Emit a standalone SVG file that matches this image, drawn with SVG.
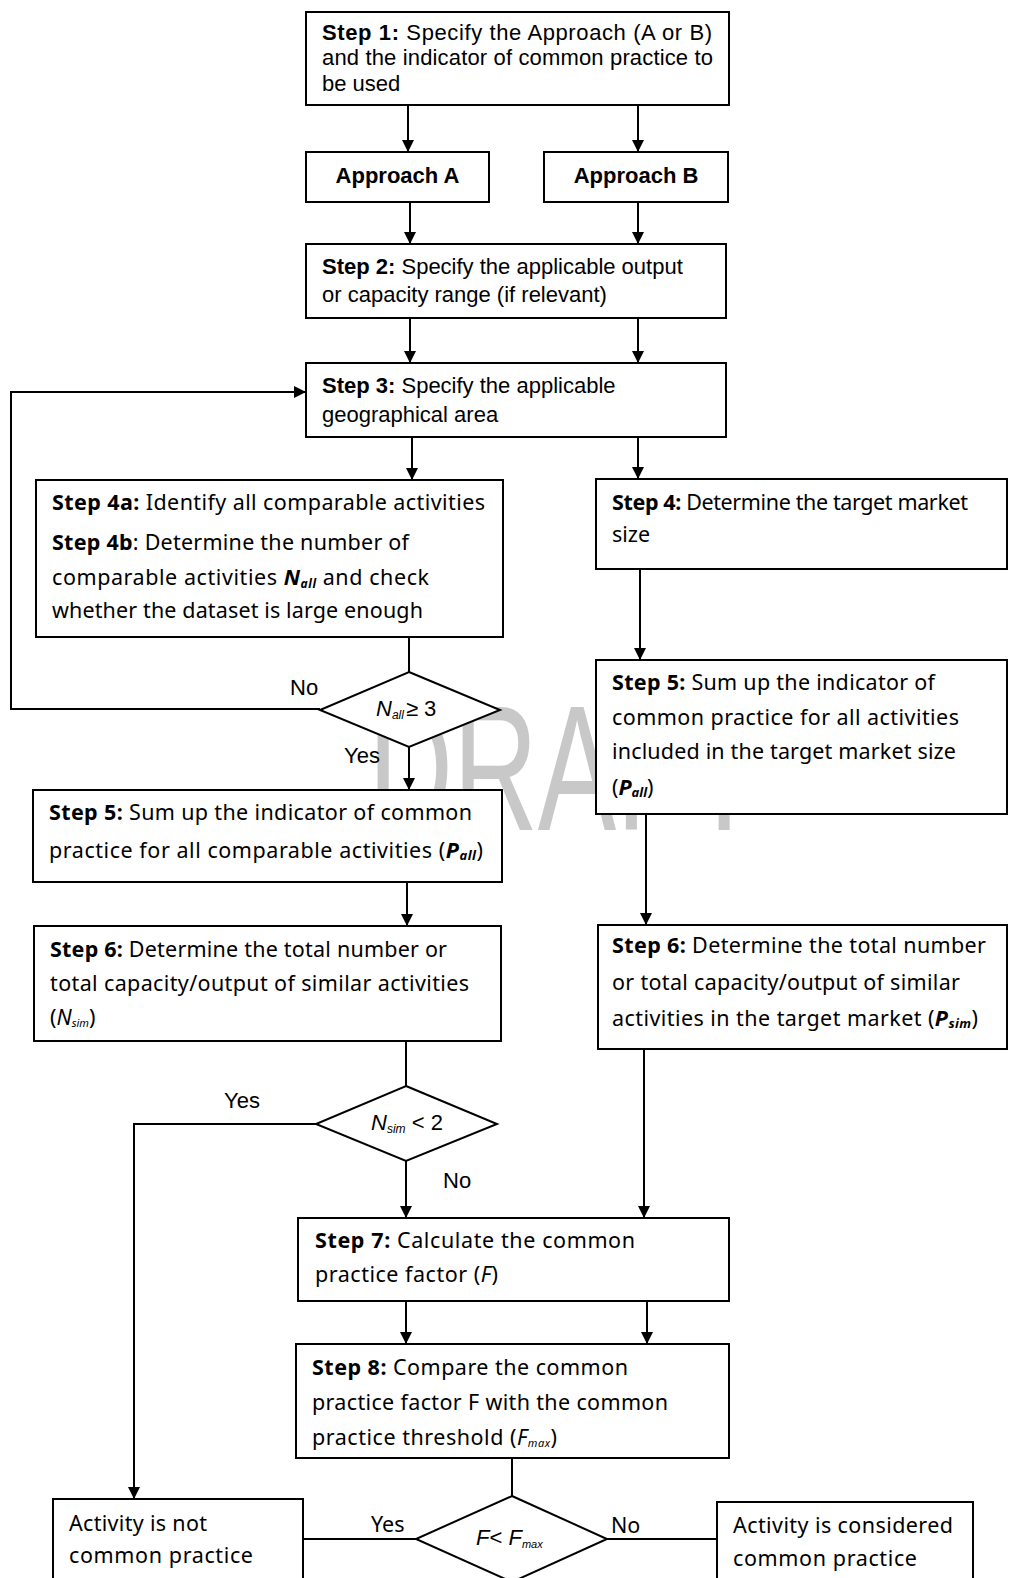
<svg xmlns="http://www.w3.org/2000/svg" width="1009" height="1578" viewBox="0 0 1009 1578">
<defs>
<marker id="arr" markerUnits="userSpaceOnUse" viewBox="0 0 12 12" markerWidth="12" markerHeight="12" refX="12" refY="6" orient="auto">
<path d="M0,0 L12,6 L0,12 z" fill="#000"/>
</marker>
<style>
.box{fill:#fff;stroke:#000;stroke-width:2}
.c{fill:none;stroke:#000;stroke-width:2}
.a{fill:none;stroke:#000;stroke-width:2;marker-end:url(#arr)}
.ar{font-family:"Liberation Sans",Arial,sans-serif;font-size:22px;fill:#000}
.ap{font-family:"Noto Sans","Open Sans",sans-serif;font-size:21.5px;fill:#000}
.b{font-weight:bold}
.i{font-style:italic}
.wm{font-family:"Liberation Sans",Arial,sans-serif;font-size:178px;fill:#c8c8c8}
</style>
</defs>
<rect width="1009" height="1578" fill="#fff"/>
<text class="wm" x="368" y="830" textLength="392" lengthAdjust="spacingAndGlyphs">DRAFT</text>

<g id="connectors">
<line class="a" x1="408" y1="105" x2="408" y2="152"/>
<line class="a" x1="638" y1="105" x2="638" y2="152"/>
<line class="a" x1="410" y1="202" x2="410" y2="244"/>
<line class="a" x1="638" y1="202" x2="638" y2="244"/>
<line class="a" x1="410" y1="318" x2="410" y2="363"/>
<line class="a" x1="638" y1="318" x2="638" y2="363"/>
<line class="a" x1="412" y1="437" x2="412" y2="480"/>
<line class="a" x1="638" y1="437" x2="638" y2="479"/>
<line class="c" x1="409" y1="637" x2="409" y2="672"/>
<polyline class="a" points="320,709 11,709 11,392 306,392"/>
<line class="a" x1="409" y1="747" x2="409" y2="790"/>
<line class="a" x1="640" y1="569" x2="640" y2="660"/>
<line class="a" x1="407" y1="882" x2="407" y2="926"/>
<line class="a" x1="646" y1="814" x2="646" y2="925"/>
<line class="c" x1="406" y1="1041" x2="406" y2="1086"/>
<polyline class="a" points="316,1124 134,1124 134,1499"/>
<line class="a" x1="406" y1="1161" x2="406" y2="1218"/>
<line class="a" x1="644" y1="1049" x2="644" y2="1218"/>
<line class="a" x1="406" y1="1301" x2="406" y2="1344"/>
<line class="a" x1="647" y1="1301" x2="647" y2="1344"/>
<line class="c" x1="512" y1="1458" x2="512" y2="1496"/>
<line class="c" x1="416" y1="1539" x2="303" y2="1539"/>
<line class="c" x1="607" y1="1539" x2="717" y2="1539"/>
<text class="ar" x="290" y="695">No</text>
<text class="ar" x="344" y="763">Yes</text>
<text class="ar" x="224" y="1108">Yes</text>
<text class="ar" x="443" y="1188">No</text>
<text class="ap" x="371" y="1532">Yes</text>
<text class="ap" x="611" y="1533">No</text>
</g>

<g id="step1">
<rect class="box" x="306" y="12" width="423" height="93"/>
<text class="ar" x="322" y="40" textLength="390" lengthAdjust="spacing"><tspan class="b">Step 1:</tspan> Specify the Approach (A or B)</text>
<text class="ar" x="322" y="65" textLength="391" lengthAdjust="spacing">and the indicator of common practice to</text>
<text class="ar" x="322" y="91">be used</text>
</g>

<g id="approachA">
<rect class="box" x="306" y="152" width="183" height="50"/>
<text class="ar b" x="397.5" y="183" text-anchor="middle">Approach A</text>
</g>
<g id="approachB">
<rect class="box" x="544" y="152" width="184" height="50"/>
<text class="ar b" x="636" y="183" text-anchor="middle">Approach B</text>
</g>

<g id="step2">
<rect class="box" x="306" y="244" width="420" height="74"/>
<text class="ar" x="322" y="274"><tspan class="b">Step 2:</tspan> Specify the applicable output</text>
<text class="ar" x="322" y="302">or capacity range (if relevant)</text>
</g>

<g id="step3">
<rect class="box" x="306" y="363" width="420" height="74"/>
<text class="ar" x="322" y="393"><tspan class="b">Step 3:</tspan> Specify the applicable</text>
<text class="ar" x="322" y="422">geographical area</text>
</g>

<g id="step4a">
<rect class="box" x="36" y="480" width="467" height="157"/>
<text class="ap" x="52" y="510" textLength="433"><tspan class="b">Step 4a:</tspan> Identify all comparable activities</text>
<text class="ap" x="52" y="550" textLength="357"><tspan class="b">Step 4b</tspan>: Determine the number of</text>
<text class="ap" x="52" y="585" textLength="377">comparable activities <tspan class="b i">N</tspan><tspan class="b i" font-size="12" dy="3">all</tspan><tspan dy="-3"> and check</tspan></text>
<text class="ap" x="52" y="618" textLength="371">whether the dataset is large enough</text>
</g>

<g id="decision1">
<polygon class="box" points="409,672 500,710 409,747 320,710"/>
<text class="ar" x="376" y="716"><tspan class="i">N</tspan><tspan class="i" font-size="12" dy="3">all</tspan><tspan dy="-3" dx="2">≥ 3</tspan></text>
</g>

<g id="step4">
<rect class="box" x="596" y="479" width="411" height="90"/>
<text class="ap" x="612" y="510" textLength="356"><tspan class="b">Step 4:</tspan> Determine the target market</text>
<text class="ap" x="612" y="542">size</text>
</g>

<g id="step5b">
<rect class="box" x="596" y="660" width="411" height="154"/>
<text class="ap" x="612" y="690" textLength="323"><tspan class="b">Step 5:</tspan> Sum up the indicator of</text>
<text class="ap" x="612" y="725" textLength="347">common practice for all activities</text>
<text class="ap" x="612" y="759" textLength="344">included in the target market size</text>
<text class="ap" x="612" y="795">(<tspan class="b i">P</tspan><tspan class="b i" font-size="13" dy="2">all</tspan><tspan dy="-2">)</tspan></text>
</g>

<g id="step5a">
<rect class="box" x="33" y="790" width="469" height="92"/>
<text class="ap" x="49" y="820" textLength="423"><tspan class="b">Step 5:</tspan> Sum up the indicator of common</text>
<text class="ap" x="49" y="858" textLength="434">practice for all comparable activities (<tspan class="b i">P</tspan><tspan class="b i" font-size="13" dy="2">all</tspan><tspan dy="-2">)</tspan></text>
</g>

<g id="step6a">
<rect class="box" x="34" y="926" width="467" height="115"/>
<text class="ap" x="50" y="957" textLength="397"><tspan class="b">Step 6:</tspan> Determine the total number or</text>
<text class="ap" x="50" y="991" textLength="419">total capacity/output of similar activities</text>
<text class="ap" x="50" y="1025">(<tspan class="i">N</tspan><tspan class="i" font-size="11" dy="2">sim</tspan><tspan dy="-2">)</tspan></text>
</g>

<g id="step6b">
<rect class="box" x="598" y="925" width="409" height="124"/>
<text class="ap" x="612" y="953" textLength="374"><tspan class="b">Step 6:</tspan> Determine the total number</text>
<text class="ap" x="612" y="990" textLength="348">or total capacity/output of similar</text>
<text class="ap" x="612" y="1026" textLength="366">activities in the target market (<tspan class="b i">P</tspan><tspan class="b i" font-size="13" dy="2">sim</tspan><tspan dy="-2">)</tspan></text>
</g>

<g id="decision2">
<polygon class="box" points="406,1086 497,1124 406,1161 316,1124"/>
<text class="ar" x="371" y="1130"><tspan class="i">N</tspan><tspan class="i" font-size="12" dy="3">sim</tspan><tspan dy="-3"> &lt; 2</tspan></text>
</g>

<g id="step7">
<rect class="box" x="298" y="1218" width="431" height="83"/>
<text class="ap" x="315" y="1248" textLength="320"><tspan class="b">Step 7:</tspan> Calculate the common</text>
<text class="ap" x="315" y="1282" textLength="183">practice factor (<tspan class="i">F</tspan>)</text>
</g>

<g id="step8">
<rect class="box" x="296" y="1344" width="433" height="114"/>
<text class="ap" x="312" y="1375" textLength="316"><tspan class="b">Step 8:</tspan> Compare the common</text>
<text class="ap" x="312" y="1410" textLength="356">practice factor F with the common</text>
<text class="ap" x="312" y="1445" textLength="245">practice threshold (<tspan class="i">F</tspan><tspan class="i" font-size="11" dy="2">max</tspan><tspan dy="-2">)</tspan></text>
</g>

<g id="decision3">
<polygon class="box" points="512,1496 607,1539 512,1582 416,1539"/>
<text class="ar" x="476" y="1545" font-size="21"><tspan class="i">F</tspan>&lt; <tspan class="i">F</tspan><tspan class="i" font-size="11" dy="3">max</tspan></text>
</g>

<g id="notCommon">
<rect class="box" x="53" y="1499" width="250" height="110"/>
<text class="ap" x="69" y="1531" textLength="138">Activity is not</text>
<text class="ap" x="69" y="1563" textLength="184">common practice</text>
</g>

<g id="common">
<rect class="box" x="717" y="1502" width="256" height="110"/>
<text class="ap" x="733" y="1533" textLength="220">Activity is considered</text>
<text class="ap" x="733" y="1566" textLength="184">common practice</text>
</g>
</svg>
